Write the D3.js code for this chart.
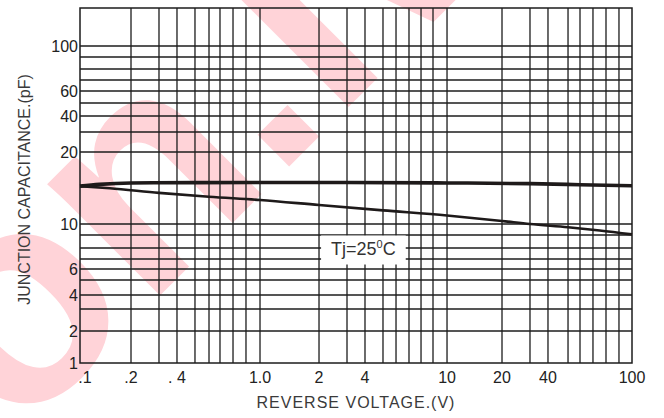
<!DOCTYPE html>
<html lang="en">
<head>
  <meta charset="UTF-8">
  <title>Junction Capacitance vs Reverse Voltage</title>
  <script src="https://d3js.org/d3.v7.min.js"></script>
  <style>
    body { margin: 0; background: #fff; }
    svg { display: block; font-family: "Liberation Sans", Arial, sans-serif; }
    .grid line { stroke: #1c1c1c; stroke-width: 1.3; }
    .frame { fill: none; stroke: #1c1c1c; stroke-width: 1.5; }
    .tick { font-size: 16px; fill: #222; }
    .title { font-size: 16px; fill: #3a3a3a; }
    .curve { fill: none; stroke: #1e1a1a; stroke-linejoin: round; stroke-linecap: butt; }
    .watermark { font-size: 300px; font-weight: bold; fill: #ffd3d8; }
  </style>
</head>
<body>
  <svg id="chart" width="664" height="418"></svg>

  <script>
    // ruling of the printed log paper (grid values)
    const xGrid = [0.1, 0.2, 0.3, 0.4, 0.5, 0.6, 0.7, 0.8, 0.9, 1, 2, 3, 4, 5, 6, 7, 8, 9, 10, 20, 30, 40, 50, 60, 70, 80, 90, 100];
    const yGrid = [1, 2, 3, 4, 5, 6, 7, 8, 9, 10, 20, 30, 40, 50, 60, 70, 80, 90, 100];
    const yTop = 144;

    // tick labels
    const xTicks = [0.1, 0.2, 0.4, 1, 2, 4, 10, 20, 40, 100];
    const xTickLabels = [".1", ".2", ". 4", "1.0", "2", "4", "10", "20", "40", "100"];
    const yTicks = [100, 60, 40, 20, 10, 6, 4, 2, 1];

    // series: reverse voltage (V) / junction capacitance (pF)
    const voltsUpper = [0.1, 0.13, 0.2, 0.5, 1, 3, 10, 30, 60, 100];
    const capUpper   = [14.4, 14.65, 14.85, 14.9, 14.92, 14.92, 14.85, 14.75, 14.6, 14.45];
    const voltsLower = [0.1, 0.15, 0.3, 0.6, 1, 2, 5, 10, 20, 30, 50, 75, 100];
    const capLower   = [14.4, 14.1, 13.5, 13.0, 12.6, 12.0, 11.4, 10.85, 10.3, 10.0, 9.7, 9.4, 9.05];

    const note = { v: 3.9, c: 8 };

    // layout
    const margin = { top: 8, right: 32, bottom: 55, left: 80 };
    const W = 664, H = 418;
    const plotW = W - margin.left - margin.right;
    const plotH = H - margin.top - margin.bottom;

    // the paper is not an exact log ruling, so map grid values piecewise (fractions of plot size)
    const xPaper = [0, .0924, .1431, .1757, .2083, .2337, .2536, .2772, .3007, .3261,
                    .4330, .4837, .5163, .5489, .5725, .5960, .6178, .6395, .6649,
                    .7645, .8152, .8478, .8841, .9058, .9293, .9529, .9764, 1];
    const yPaper = [0, .0901, .1521, .1915, .2338, .2648, .2930, .3239, .3606, .3915,
                    .5944, .6507, .6958, .7324, .7662, .7972, .8282, .8620, .8930, 1];

    const xLog = d3.scaleLinear()
      .domain(xGrid.map(Math.log10))
      .range(xPaper.map(f => margin.left + f * plotW));
    const yLog = d3.scaleLinear()
      .domain(yGrid.concat([yTop]).map(Math.log10))
      .range(yPaper.map(f => margin.top + plotH - f * plotH));
    const x = v => xLog(Math.log10(v));
    const y = v => yLog(Math.log10(v));

    const svg = d3.select("#chart");

    // pink watermark behind everything
    svg.append("text")
      .attr("class", "watermark")
      .attr("transform", "translate(15.6,440) rotate(-45)")
      .text("on.lv");

    // grid
    const grid = svg.append("g").attr("class", "grid");
    grid.selectAll("line.v")
      .data(xGrid.slice(1, -1))
      .join("line")
      .attr("class", "v")
      .attr("x1", d => x(d)).attr("x2", d => x(d))
      .attr("y1", y(yTop)).attr("y2", y(1));
    grid.selectAll("line.h")
      .data(yGrid.slice(1))
      .join("line")
      .attr("class", "h")
      .attr("x1", x(0.1)).attr("x2", x(100))
      .attr("y1", d => y(d)).attr("y2", d => y(d));

    svg.append("rect")
      .attr("class", "frame")
      .attr("x", x(0.1)).attr("y", y(yTop))
      .attr("width", x(100) - x(0.1))
      .attr("height", y(1) - y(yTop));

    // curves
    const line = d3.line()
      .x(d => x(d[0]))
      .y(d => y(d[1]))
      .curve(d3.curveMonotoneX);

    svg.append("path")
      .attr("class", "curve")
      .attr("stroke-width", 3.6)
      .attr("d", line(d3.zip(voltsUpper, capUpper)));
    svg.append("path")
      .attr("class", "curve")
      .attr("stroke-width", 2.6)
      .attr("d", line(d3.zip(voltsLower, capLower)));

    // Tj annotation with white box
    const noteG = svg.append("g");
    const noteBox = noteG.append("rect").attr("fill", "#fff");
    const noteText = noteG.append("text")
      .attr("x", x(note.v))
      .attr("y", y(note.c) + 6.5)
      .attr("text-anchor", "middle")
      .style("font-size", "18px")
      .style("fill", "#333");
    noteText.append("tspan").text("Tj=25");
    noteText.append("tspan").attr("dy", -7).style("font-size", "11px").text("0");
    noteText.append("tspan").attr("dy", 7).text("C");
    const bb = noteText.node().getBBox();
    noteBox.attr("x", bb.x - 10).attr("y", bb.y - 2)
      .attr("width", bb.width + 20).attr("height", bb.height + 8);

    // tick labels
    svg.append("g").selectAll("text")
      .data(yTicks)
      .join("text")
      .attr("class", "tick")
      .attr("x", margin.left - 2)
      .attr("y", d => y(d))
      .attr("dy", "0.36em")
      .attr("text-anchor", "end")
      .text(d => d);

    svg.append("g").selectAll("text")
      .data(xTicks)
      .join("text")
      .attr("class", "tick")
      .attr("x", (d, i) => x(d) + (i === 0 ? 5 : 0))
      .attr("y", y(1) + 20)
      .attr("text-anchor", "middle")
      .text((d, i) => xTickLabels[i]);

    // axis titles
    svg.append("text")
      .attr("class", "title")
      .attr("x", margin.left + plotW / 2)
      .attr("y", H - 10)
      .attr("text-anchor", "middle")
      .style("letter-spacing", "1px")
      .text("REVERSE VOLTAGE.(V)");

    svg.append("text")
      .attr("class", "title")
      .attr("transform", `translate(30,${margin.top + plotH / 2 + 4}) rotate(-90)`)
      .attr("text-anchor", "middle")
      .text("JUNCTION CAPACITANCE.(pF)");
  </script>
</body>
</html>
